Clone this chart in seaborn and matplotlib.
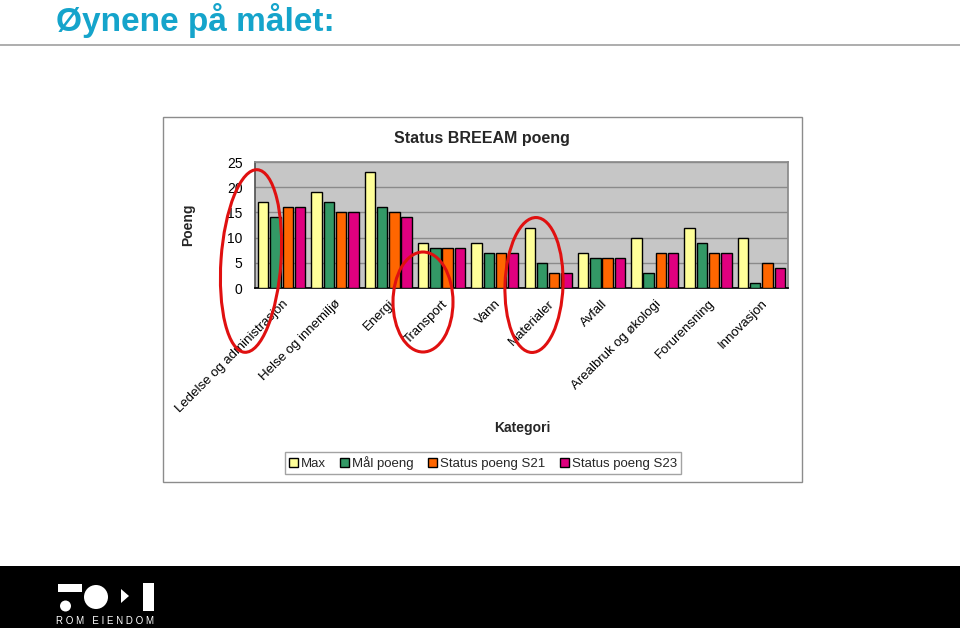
import matplotlib
matplotlib.use("Agg")
import matplotlib.pyplot as plt
import seaborn as sns
import pandas as pd
from matplotlib.patches import Ellipse, Rectangle, Circle, Polygon, Patch

# ---------------- data ----------------
categories = ["Ledelse og administrasjon", "Helse og innemiljø", "Energi", "Transport",
              "Vann", "Materialer", "Avfall", "Arealbruk og økologi", "Forurensning",
              "Innovasjon"]
max_vals = [17, 19, 23, 9, 9, 12, 7, 10, 12, 10]
maal_vals = [14, 17, 16, 8, 7, 5, 6, 3, 9, 1]
s21_vals = [16, 15, 15, 8, 7, 3, 6, 7, 7, 5]
s23_vals = [16, 15, 14, 8, 7, 3, 6, 7, 7, 4]
series_names = ["Max", "Mål poeng", "Status poeng S21", "Status poeng S23"]
colors = ["#FFFF99", "#339966", "#FF6600", "#E0007F"]
y_ticks = [0, 5, 10, 15, 20, 25]

rows = []
for name, vals in zip(series_names, [max_vals, maal_vals, s21_vals, s23_vals]):
    for c, v in zip(categories, vals):
        rows.append({"Kategori": c, "Poeng": v, "Serie": name})
df = pd.DataFrame(rows)

sns.set_theme(style="white")
plt.rcParams['font.family'] = ['Liberation Sans', 'DejaVu Sans']

W, H = 960, 628
fig = plt.figure(figsize=(9.6, 6.28), dpi=100)
fig.patch.set_facecolor("white")


def fx(x):
    return x / W


def fy(y):
    return 1 - y / H


def inch(x, y):
    return (x / 100.0, (H - y) / 100.0)


# header
fig.text(fx(56), fy(20), "Øynene på målet:", fontsize=24, fontweight="bold",
         color="#15A4CB", ha="left", va="center")
fig.add_artist(plt.Line2D([0, 1], [fy(45), fy(45)], transform=fig.transFigure,
                          color="#A0A0A0", lw=1.2))

# chart border
fig.add_artist(Rectangle((fx(163), fy(482)), fx(802) - fx(163), (482 - 117) / H,
                         transform=fig.transFigure, fill=False, edgecolor="#8C8C8C", lw=1))

ax = fig.add_axes([fx(255), fy(288), fx(788) - fx(255), (288 - 162) / H])
sns.barplot(data=df, x="Kategori", y="Poeng", hue="Serie", palette=colors,
            saturation=1, width=0.92, gap=0.15, edgecolor="black", linewidth=1,
            errorbar=None, ax=ax, legend=False, zorder=3)
ax.set_facecolor("#C6C6C6")
ax.set_ylim(0, 25)
ax.set_xlim(-0.5, len(categories) - 0.5)
ax.set_yticks(y_ticks)
ax.yaxis.grid(True, color="#8A8A8A", lw=1)
ax.set_axisbelow(True)
for s in ["top", "right"]:
    ax.spines[s].set_color("#8A8A8A")
ax.spines["left"].set_color("#555555")
ax.spines["bottom"].set_color("black")
ax.tick_params(axis="y", length=0, pad=9, labelsize=10, colors="black")
ax.tick_params(axis="x", length=0, pad=7, labelsize=9.5, colors="black")
ax.set_xticks(range(len(categories)))
ax.set_xticklabels(categories, rotation=45, ha="right", va="top", rotation_mode="anchor")
ax.set_xlabel("")
ax.set_ylabel("")

fig.text(fx(188), fy(225), "Poeng", rotation=90, fontsize=10, fontweight="bold",
         ha="center", va="center")
fig.text(fx(482), fy(138), "Status BREEAM poeng", fontsize=11.5, fontweight="bold",
         ha="center", va="center")
fig.text(fx(522), fy(428), "Kategori", fontsize=10, fontweight="bold",
         ha="center", va="center")

handles = [Patch(facecolor=c, edgecolor="black", lw=1) for c in colors]
leg = fig.legend(handles, series_names, loc="center", bbox_to_anchor=(fx(483), fy(463)),
                 ncol=4, frameon=True, fancybox=False, edgecolor="#8C8C8C", fontsize=9.5,
                 handlelength=0.65, handleheight=0.65, handletextpad=0.25,
                 columnspacing=1.1, borderpad=0.3, borderaxespad=0)
leg.get_frame().set_linewidth(1)

# red ellipses (annotation)
for (cx, cy, w, h, ang) in [(251, 261, 60, 183, -4), (423, 302, 60, 100, 0),
                            (534, 285, 58, 135, -2)]:
    fig.add_artist(Ellipse(inch(cx, cy), w / 100.0, h / 100.0, angle=ang,
                           transform=fig.dpi_scale_trans, fill=False,
                           edgecolor="#E01010", lw=2.2, zorder=10))

# footer
fig.add_artist(Rectangle((0, 0), 1, (628 - 566) / H, transform=fig.transFigure,
                         facecolor="black", edgecolor="none"))
x0, y0 = inch(58, 592)
fig.add_artist(Rectangle((x0, y0), 0.24, 0.08, transform=fig.dpi_scale_trans,
                         facecolor="white", edgecolor="none"))
fig.add_artist(Circle(inch(65.5, 606), 0.055, transform=fig.dpi_scale_trans,
                      facecolor="white", edgecolor="none"))
fig.add_artist(Circle(inch(96, 597), 0.12, transform=fig.dpi_scale_trans,
                      facecolor="white", edgecolor="none"))
fig.add_artist(Polygon([inch(121, 589), inch(129, 596), inch(121, 603)], closed=True,
                       transform=fig.dpi_scale_trans, facecolor="white", edgecolor="none"))
x1, y1 = inch(143, 611)
fig.add_artist(Rectangle((x1, y1), 0.11, 0.28, transform=fig.dpi_scale_trans,
                         facecolor="white", edgecolor="none"))
fig.text(fx(105), fy(621), "R O M   E I E N D O M", color="white", fontsize=7,
         ha="center", va="center")

fig.savefig("out.png", dpi=100)
